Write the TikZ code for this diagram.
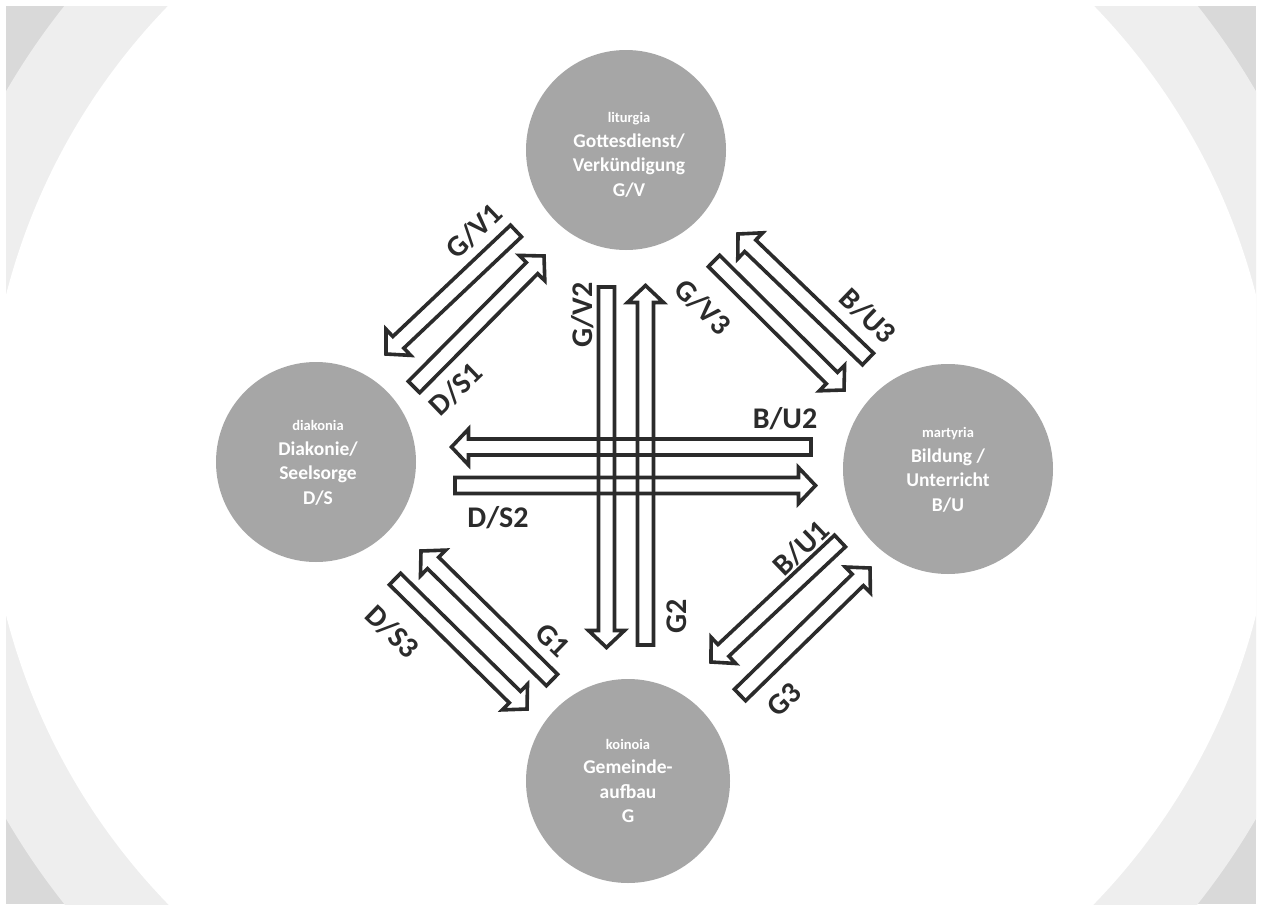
\documentclass[tikz,border=0pt]{standalone}
\usepackage{fontspec}
\setmainfont{Carlito}
\usetikzlibrary{calc}
\definecolor{bgdark}{HTML}{D9D9D9}
\definecolor{bgmid}{HTML}{EEEEEE}
\definecolor{circfill}{HTML}{A6A6A6}
\definecolor{ink}{HTML}{2B2B2B}
\newcommand\hollowarr[2]{%
  \coordinate (#1-h) at ($(#2)!17pt!(#1)$);
  \draw[arrowline] ($(#1)!8pt!90:(#2)$) -- ($(#1-h)!8pt!90:(#2)$) -- ($(#1-h)!18pt!90:(#2)$) -- (#2) -- ($(#1-h)!18pt!-90:(#2)$) -- ($(#1-h)!8pt!-90:(#2)$) -- ($(#1)!8pt!-90:(#2)$) -- cycle;}
\begin{document}
\begin{tikzpicture}[x=1pt,y=-1pt,
  arrowline/.style={draw=ink,line width=3.6pt,line join=miter},
  lbl/.style={font=\fontsize{30}{36}\selectfont\bfseries,text=ink,inner sep=0pt},
  pillar/.style={circle,fill=circfill,inner sep=0pt},
  ctext/.style={align=center,text=white,inner sep=0pt,font=\fontsize{19.5}{24.5}\selectfont\bfseries}]
\useasboundingbox (0,0) rectangle (1262,910);
\fill[white] (0,0) rectangle (1262,910);
\begin{scope}
  \clip (6,6) rectangle (1256,904);
  \fill[bgdark] (6,6) rectangle (1256,904);
  \fill[bgmid] (631,455) circle (723pt);
  \fill[white] (631,455) circle (645pt);
\end{scope}

% pillars
\node[pillar,minimum size=200pt] (lit) at (626,150) {};
\node[pillar,minimum size=200pt] (dia) at (316,462) {};
\node[pillar,minimum size=210pt] (mar) at (948,469) {};
\node[pillar,minimum size=204pt] (koi) at (628,781) {};
\node[ctext] (littx) at ($(lit.center)+(3,5)$) {{\fontsize{14.5}{17}\selectfont liturgia}\\Gottesdienst/\\Verkündigung\\G/V};
\node[ctext] (diatx) at ($(dia.center)+(2,1)$) {{\fontsize{14.5}{17}\selectfont diakonia}\\Diakonie/\\Seelsorge\\D/S};
\node[ctext] (martx) at ($(mar.center)+(0,1)$) {{\fontsize{14.5}{17}\selectfont martyria}\\Bildung /\\Unterricht\\B/U};
\node[ctext] (koitx) at ($(koi.center)+(0,0)$) {{\fontsize{14.5}{17}\selectfont koinoia}\\Gemeinde-\\aufbau\\G};

% arrow end points
\coordinate (gv2t) at (606.5,287);   \coordinate (gv2p) at (606.5,647.5);
\coordinate (g2t)  at (645.5,645);   \coordinate (g2p)  at (645.5,285.5);
\coordinate (bu2t) at (811,447);     \coordinate (bu2p) at (451.5,447);
\coordinate (ds2t) at (455,485.5);   \coordinate (ds2p) at (815.5,485.5);
\coordinate (gv1t) at (516,231);     \coordinate (gv1p) at (386,354);
\coordinate (ds1t) at (414,387);     \coordinate (ds1p) at (544,256);
\coordinate (bu3t) at (868,359);     \coordinate (bu3p) at (738,234);
\coordinate (gv3t) at (714,261);     \coordinate (gv3p) at (844,390);
\coordinate (g1t)  at (552,680);     \coordinate (g1p)  at (421,551);
\coordinate (ds3t) at (395,579);     \coordinate (ds3p) at (527,709);
\coordinate (bu1t) at (840,541);     \coordinate (bu1p) at (711,662);
\coordinate (g3t)  at (740,695);     \coordinate (g3p)  at (870,568);

\hollowarr{gv2t}{gv2p}
\hollowarr{g2t}{g2p}
\hollowarr{bu2t}{bu2p}
\hollowarr{ds2t}{ds2p}
\hollowarr{gv1t}{gv1p}
\hollowarr{ds1t}{ds1p}
\hollowarr{bu3t}{bu3p}
\hollowarr{gv3t}{gv3p}
\hollowarr{g1t}{g1p}
\hollowarr{ds3t}{ds3p}
\hollowarr{bu1t}{bu1p}
\hollowarr{g3t}{g3p}

% labels
\node[lbl,rotate=44]  (lgv1) at (474,231) {G/V1};
\node[lbl,rotate=44]  (lds1) at (456,389) {D/S1};
\node[lbl,rotate=90]  (lgv2) at (583,315) {G/V2};
\node[lbl,rotate=90]  (lg2)  at (677,616) {G2};
\node[lbl,rotate=-44] (lgv3) at (703,307) {G/V3};
\node[lbl,rotate=-44] (lbu3) at (868,316) {B/U3};
\node[lbl]            (lbu2) at (785,419) {B/U2};
\node[lbl]            (lds2) at (498,518) {D/S2};
\node[lbl,rotate=-44] (lds3) at (392,632) {D/S3};
\node[lbl,rotate=-44] (lg1)  at (553,640) {G1};
\node[lbl,rotate=44]  (lbu1) at (801,548) {B/U1};
\node[lbl,rotate=44]  (lg3)  at (784,700) {G3};
\end{tikzpicture}
\end{document}
